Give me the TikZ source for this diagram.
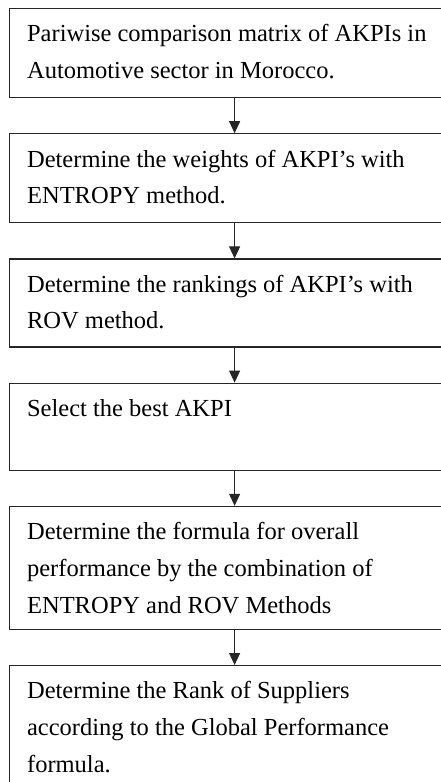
\documentclass[tikz,border=0pt]{standalone}
\usepackage{fontspec}
\setmainfont{Liberation Serif}
\usetikzlibrary{positioning, arrows.meta}

\newcommand{\stepbody}[2]{\parbox[c][#1][t]{415pt}{\vspace{16pt}\raggedright #2}}

\tikzset{
  stepbox/.style={draw=black!85, line width=1.2pt, minimum width=450pt, inner xsep=16pt, inner ysep=0pt,
    font=\fontsize{24.5pt}{36.7pt}\selectfont},
  flowarrow/.style={draw=black!85, line width=1pt, -{Triangle[length=12pt,width=11pt]}}
}

\begin{document}
\begin{tikzpicture}[x=1pt,y=1pt,yscale=-1,xscale=1, node distance=35pt]
    % page frame, boxes run past the right and bottom edge
    \path[use as bounding box, clip] (0,0) rectangle (441,782);
    \fill[white] (0,0) rectangle (441,782);

    % Steps
    \node[stepbox, anchor=north west] (s1) at (9,8)
      {\stepbody{89pt}{Pariwise comparison matrix of AKPIs in\\ Automotive sector in Morocco.}};
    \node[stepbox, below=of s1] (s2)
      {\stepbody{89pt}{Determine the weights of AKPI's with\\ ENTROPY method.}};
    \node[stepbox, below=of s2] (s3)
      {\stepbody{88pt}{Determine the rankings of AKPI's with\\ ROV method.}};
    \node[stepbox, below=of s3] (s4)
      {\stepbody{87pt}{Select the best AKPI}};
    \node[stepbox, below=of s4] (s5)
      {\stepbody{123pt}{Determine the formula for overall\\ performance by the combination of\\ ENTROPY and ROV Methods}};
    \node[stepbox, below=of s5] (s6)
      {\stepbody{135pt}{Determine the Rank of Suppliers\\ according to the Global Performance\\ formula.}};

    % Arrows
    \foreach \a/\b in {s1/s2, s2/s3, s3/s4, s4/s5, s5/s6}
      \draw[flowarrow] (\a) -- (\b);

\end{tikzpicture}
\end{document}
